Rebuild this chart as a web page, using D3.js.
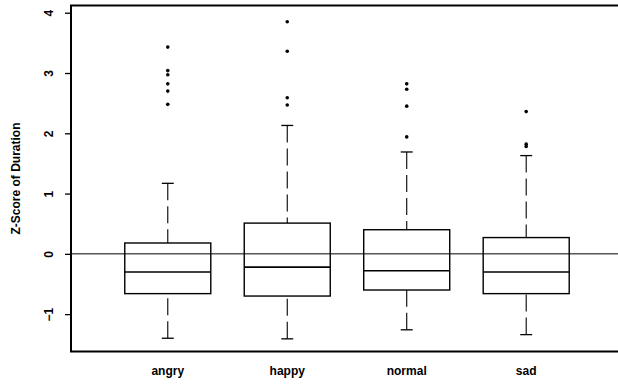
<!DOCTYPE html>
<html>
<head>
<meta charset="utf-8">
<script src="https://cdn.jsdelivr.net/npm/d3@7"></script>
<style>
  html, body { margin: 0; padding: 0; background: #fff; }
  svg { display: block; }
  text { font-family: "Liberation Sans", Arial, sans-serif; font-weight: bold; fill: #000; }
</style>
</head>
<body>
<svg id="chart" width="618" height="384"></svg>
<script>
// ---- data ----
const categories = ["angry", "happy", "normal", "sad"];
const lowerWhisker = [-1.40, -1.41, -1.26, -1.34];
const q1 = [-0.66, -0.70, -0.60, -0.66];
const medians = [-0.30, -0.22, -0.28, -0.30];
const q3 = [0.18, 0.51, 0.40, 0.27];
const upperWhisker = [1.17, 2.13, 1.69, 1.63];
const outliersAngry = [3.43, 3.04, 2.97, 2.82, 2.70, 2.48];
const outliersHappy = [3.85, 3.36, 2.59, 2.47];
const outliersNormal = [2.82, 2.73, 2.45, 1.94];
const outliersSad = [2.36, 1.82, 1.78];
const outliers = [outliersAngry, outliersHappy, outliersNormal, outliersSad];
const yTicks = [-1, 0, 1, 2, 3, 4];
const yTitle = "Z-Score of Duration";
const refLine = 0;

// ---- layout ----
const svg = d3.select("#chart");
const mLeft = 71, mTop = 5.5, mBottom = 351.5, mRight = 640;

const x = d3.scaleLinear().domain([0.19, 4.76]).range([mLeft, 617]);
const y = d3.scaleLinear().domain([-1.62, 4.12]).range([mBottom, mTop]);

const boxHalf = 0.36;   // in category units
const capHalf = 0.05;

// reference line at 0
svg.append("line")
  .attr("x1", mLeft).attr("x2", mRight)
  .attr("y1", y(refLine)).attr("y2", y(refLine))
  .attr("stroke", "#000").attr("stroke-width", 1);

const g = svg.append("g");
categories.forEach((c, i) => {
  const cx = x(i + 1);
  const xl = x(i + 1 - boxHalf), xr = x(i + 1 + boxHalf);
  const grp = g.append("g");
  grp.append("line")
    .attr("x1", cx).attr("x2", cx)
    .attr("y1", y(upperWhisker[i])).attr("y2", y(q3[i]))
    .attr("stroke", "#000").attr("stroke-width", 1.1)
    .attr("stroke-dasharray", "17,6");
  grp.append("line")
    .attr("x1", cx).attr("x2", cx)
    .attr("y1", y(lowerWhisker[i])).attr("y2", y(q1[i]))
    .attr("stroke", "#000").attr("stroke-width", 1.1)
    .attr("stroke-dasharray", "17,6");
  [upperWhisker[i], lowerWhisker[i]].forEach(v => {
    grp.append("line")
      .attr("x1", x(i + 1 - capHalf)).attr("x2", x(i + 1 + capHalf))
      .attr("y1", y(v)).attr("y2", y(v))
      .attr("stroke", "#000").attr("stroke-width", 1.3);
  });
  grp.append("rect")
    .attr("x", xl).attr("y", y(q3[i]))
    .attr("width", xr - xl).attr("height", y(q1[i]) - y(q3[i]))
    .attr("fill", "none").attr("stroke", "#000").attr("stroke-width", 1.4);
  grp.append("line")
    .attr("x1", xl).attr("x2", xr)
    .attr("y1", y(medians[i])).attr("y2", y(medians[i]))
    .attr("stroke", "#000").attr("stroke-width", 1.6);
  grp.selectAll("circle").data(outliers[i]).enter().append("circle")
    .attr("cx", cx).attr("cy", d => y(d)).attr("r", 1.8)
    .attr("fill", "#000");
  svg.append("text")
    .attr("x", cx).attr("y", 375)
    .attr("text-anchor", "middle")
    .style("font-size", "12px")
    .text(c);
});

// y axis
const yAxis = d3.axisLeft(y).tickValues(yTicks).tickSize(6).tickPadding(0).tickFormat(d3.format("d"));
const ax = svg.append("g").attr("transform", `translate(${mLeft},0)`).call(yAxis);
ax.select(".domain").remove();
ax.selectAll(".tick line").attr("stroke", "#000").attr("stroke-width", 1.3);
ax.selectAll(".tick text")
  .attr("x", null).attr("dy", null)
  .attr("text-anchor", "middle")
  .attr("transform", "translate(-18,0) rotate(-90)")
  .style("font-family", "'Liberation Sans', Arial, sans-serif")
  .style("font-weight", "bold")
  .style("font-size", "12px");

// frame (left, top, bottom; right edge falls outside the picture)
svg.append("path")
  .attr("d", `M${mRight},${mTop}H${mLeft}V${mBottom}H${mRight}`)
  .attr("fill", "none").attr("stroke", "#000").attr("stroke-width", 2);

// y title
svg.append("text")
  .attr("transform", `translate(20,${(mTop + mBottom) / 2}) rotate(-90)`)
  .attr("text-anchor", "middle")
  .style("font-size", "12px")
  .text(yTitle);
</script>
</body>
</html>
